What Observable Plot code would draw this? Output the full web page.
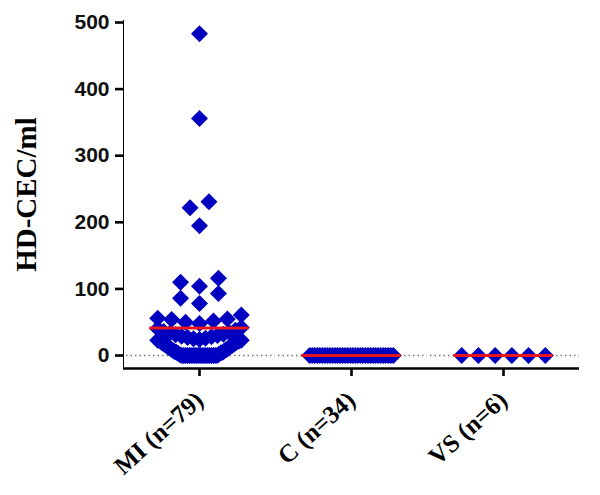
<!DOCTYPE html>
<html>
<head>
<meta charset="utf-8">
<script src="https://cdn.jsdelivr.net/npm/d3@7"></script>
<script src="https://cdn.jsdelivr.net/npm/@observablehq/plot@0.6"></script>
<style>
  html, body { margin: 0; padding: 0; background: #fff; }
  #chart svg { display: block; }
  g[aria-label^="y-axis"] path, g[aria-label^="y-axis"] line { stroke-width: 2.6px !important; }
  g[aria-label^="fx-axis"] path, g[aria-label^="fx-axis"] line { stroke-width: 2.6px !important; }
  g[aria-label="y-axis tick label"], g[aria-label="y-axis tick label"] text { font-family: "Liberation Sans", Arial, sans-serif !important; font-size: 21px !important; font-weight: bold !important; fill: #111; }
  g[aria-label="y-axis label"], g[aria-label="y-axis label"] text { font-family: "Liberation Serif", "Times New Roman", serif !important; font-weight: bold !important; font-size: 29px !important; }
  g[aria-label="fx-axis tick label"], g[aria-label="fx-axis tick label"] text { font-family: "Liberation Serif", "Times New Roman", serif !important; font-weight: bold !important; font-size: 25px !important; }
</style>
</head>
<body>
<div id="chart"></div>
<script>
// ---- data ----
const groups = ["MI (n=79)", "C (n=34)", "VS (n=6)"];
const miValues = [
  0, 0, 0, 0, 0, 0, 0, 0, 0, 0, 0, 0, 0, 0, 0, 0, 0, 0, 0, 0,
  1, 2, 3, 4, 5, 5, 6, 7, 8, 9, 10, 11, 12, 13, 14, 15, 16, 17, 18, 19, 20, 21, 22, 22, 23, 23,
  24, 25, 26, 27, 28, 29, 30, 31, 32, 33, 34, 36, 38, 40, 42,
  48, 50, 52, 54, 55, 56, 61,
  78, 86, 93,
  104, 110, 116,
  195, 222, 231, 356, 483
];
const cValues = [0, 0, 0, 0, 0, 0, 0, 0, 0, 0, 0, 0, 0, 0, 0, 0, 0, 0, 0, 0, 0, 0, 0, 0, 0, 0, 0, 0, 0, 0, 0, 0, 0, 0];
const vsValues = [0, 0, 0, 0, 0, 0];
const yTicks = [0, 100, 200, 300, 400, 500];
const yDomain = [-19.5, 503];

// ---- layout constants ----
const W = 600, H = 495, mL = 122, mR = 20;
const colWidth = (W - mL - mR) / groups.length;   // facet band width in px
const meanWidth = 100;                              // width of the mean bar
const binSize = 24, slot = 19, maxSpan = 84;

// ---- GraphPad-like column scatter layout (rows by value bins, centre-out) ----
function swarm(values) {
  const off = new Array(values.length);
  const bins = d3.group(values.map((v, i) => ({v, i})), d => Math.floor(d.v / binSize));
  for (const [, pts] of bins) {
    pts.sort((a, b) => a.v - b.v);
    const n = pts.length;
    const s = n > 1 ? Math.min(slot, maxSpan / (n - 1)) : 0;
    const pos = d3.range(n).map(k => (k - (n - 1) / 2) * s)
      .sort((a, b) => Math.abs(a) - Math.abs(b) || a - b);
    pts.forEach((p, k) => off[p.i] = pos[k]);
  }
  return off;
}
const series = [miValues, cValues, vsValues];
const rows = [];
series.forEach((vals, g) => {
  const off = swarm(vals);
  vals.forEach((v, i) => rows.push({group: groups[g], value: v, offset: off[i]}));
});

const diamond = {
  draw(context, size) {
    const r = Math.sqrt(size / Math.PI);
    context.moveTo(0, -r);
    context.lineTo(r, 0);
    context.lineTo(0, r);
    context.lineTo(-r, 0);
    context.closePath();
  }
};

const chart = Plot.plot({
  width: W,
  height: H,
  marginTop: 20,
  marginBottom: 127,
  marginLeft: mL,
  marginRight: mR,
  style: {background: "#fff", color: "#000", fontFamily: "Liberation Sans, Arial, sans-serif", fontSize: "21px"},
  x: {domain: [-colWidth / 2, colWidth / 2], axis: null},
  fx: {domain: groups, axis: "bottom", padding: 0, label: null, tickRotate: -42, tickSize: 8, tickPadding: 20},
  y: {domain: yDomain, ticks: yTicks, tickSize: 8, tickPadding: 6, line: true, label: "HD-CEC/ml", labelArrow: "none", labelAnchor: "center", labelOffset: 108},
  marks: [
    Plot.ruleY([0], {stroke: "#777", strokeWidth: 1.5, strokeDasharray: "1.5,3", insetLeft: 3}),
    Plot.dot(rows, {fx: "group", x: "offset", y: "value", symbol: diamond, r: 8.5, fill: "#0000c0", stroke: "none"}),
    Plot.ruleY(rows, Plot.groupZ({y: "mean"}, {fx: "group", y: "value", stroke: "#e8141c", strokeWidth: 3,
      insetLeft: (colWidth - meanWidth) / 2, insetRight: (colWidth - meanWidth) / 2})),
    Plot.ruleY([yDomain[0]], {stroke: "#000", strokeWidth: 2.6})
  ]
});
document.getElementById("chart").append(chart);
</script>
</body>
</html>
